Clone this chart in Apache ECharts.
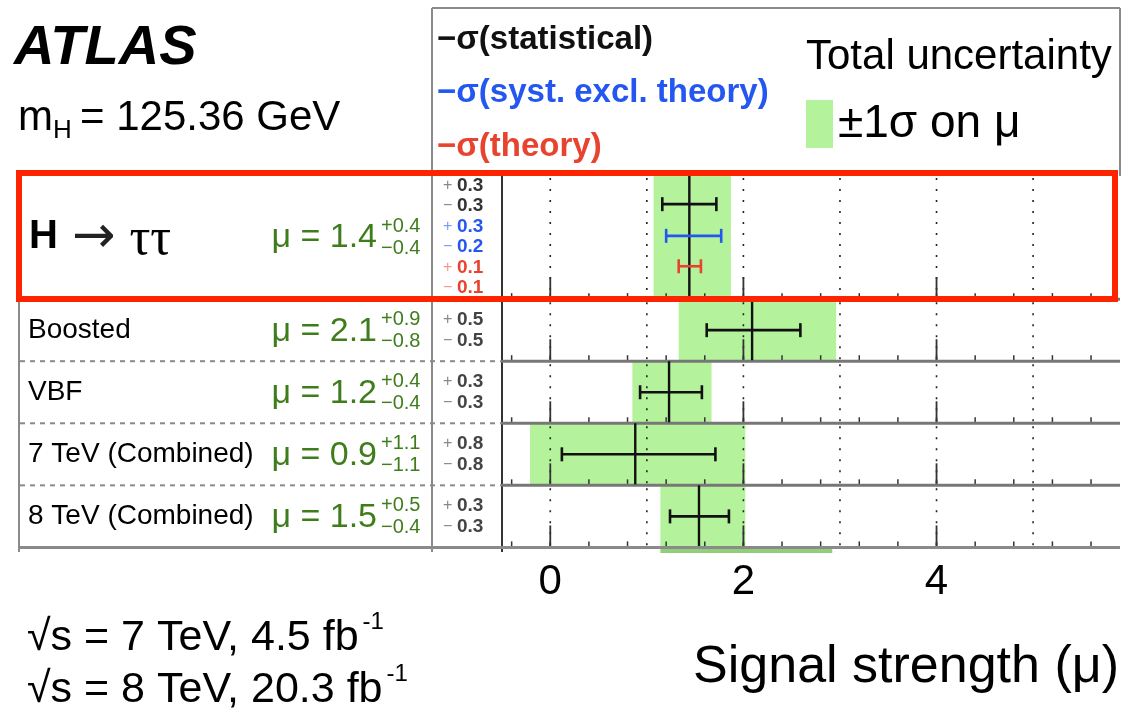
<!DOCTYPE html>
<html>
<head>
<meta charset="utf-8">
<title>ATLAS H → ττ signal strength</title>
<script src="https://cdn.jsdelivr.net/npm/echarts@6/dist/echarts.min.js"></script>
<style>
  html, body { margin: 0; padding: 0; background: #ffffff; }
  #chart { width: 1124px; height: 722px; }
</style>
</head>
<body>
<div id="chart"></div>
<script>
// ---- measured signal strengths ----
const categories = ['H → ττ', 'Boosted', 'VBF', '7 TeV (Combined)', '8 TeV (Combined)'];
const mu      = [1.44, 2.09, 1.23, 0.88, 1.54];
const totalUp = [0.43, 0.87, 0.44, 1.14, 0.48];
const totalDn = [0.37, 0.76, 0.38, 1.09, 0.40];
const statUp  = [0.28, 0.50, 0.34, 0.83, 0.31];
const statDn  = [0.28, 0.47, 0.30, 0.76, 0.30];
// breakdown shown for the combined H → ττ result only
const systUp = 0.33, systDn = 0.24;
const theoUp = 0.12, theoDn = 0.11;
// band of the following panel, cut by the frame
const nextBand = [1.14, 2.92];

// ---- axis ticks ----
const xTickLabels = [0, 2, 4];
const majorTicks  = [0, 2, 4];
const minorTicks  = [-0.4, 0, 0.4, 0.8, 1.2, 1.6, 2.0, 2.4, 2.8, 3.2, 3.6, 4.0, 4.4, 4.8, 5.2, 5.6];
const gridValues  = [0, 1, 2, 3, 4, 5];

// ---- layout ----
const X_MIN = -0.5, X_MAX = 5.9;
const Y_MAX = 6.09;
const rowStart = [0, 2, 3, 4, 5];
const rowEnd   = [2, 3, 4, 5, 6];
const statBarOffset = [0.47, 0.5, 0.5, 0.5, 0.5];
const systBarOffset = 0.98, theoBarOffset = 1.47;

const FONT = '"Liberation Sans", Arial, Helvetica, sans-serif';
const SYMBOL_FONT = '"DejaVu Sans", sans-serif';
const SERIF_FONT = '"Liberation Serif", "DejaVu Serif", serif';
const BAND = '#b4f29c';
const NEXT_BAND = '#93cf78';
const MU_GREEN = '#3f7d1c';
const STAT_C = '#111111', SYST_C = '#2456f0', THEO_C = '#e8432f';
const fmt = v => v.toFixed(1);

const measure = document.createElement('canvas').getContext('2d');
function textWidth(str, size, weight, family) {
  measure.font = (weight || 'normal') + ' ' + size + 'px ' + (family || FONT);
  return measure.measureText(str).width;
}

function txt(text, x, y, size, o) {
  o = o || {};
  return {
    type: 'text', x: x, y: y, z: o.z || 10, silent: true,
    style: {
      text: text, fill: o.color || '#000', fontSize: size, fontFamily: o.family || FONT,
      fontWeight: o.weight || 'normal', fontStyle: o.italic ? 'italic' : 'normal',
      align: o.align || 'left', textAlign: o.align || 'left',
      verticalAlign: 'middle', textVerticalAlign: 'middle'
    }
  };
}
function seg(x1, y1, x2, y2, color, w, dash) {
  return {
    type: 'line', silent: true,
    shape: { x1: x1, y1: y1, x2: x2, y2: y2 },
    style: { stroke: color, lineWidth: w, lineDash: dash || null }
  };
}

// ---- static annotations and frames ----
const graphics = [
  seg(432, 8, 1120, 8, '#8a8a8a', 2),
  seg(1120, 8, 1120, 176, '#8a8a8a', 2),
  seg(432, 8, 432, 552, '#8a8a8a', 2),
  seg(502, 176, 502, 552, '#333333', 2),
  seg(19, 176, 19, 552, '#8a8a8a', 2),

  txt('ATLAS', 14, 49, 56, { weight: 'bold', italic: true }),
  txt('m', 18, 118, 42),
  txt('H', 53, 131, 26),
  txt('= 125.36 GeV', 80, 118, 42),

  txt('−σ(statistical)', 437, 40, 33, { weight: 'bold', color: STAT_C }),
  txt('−σ(syst. excl. theory)', 437, 93, 33, { weight: 'bold', color: SYST_C }),
  txt('−σ(theory)', 437, 147, 33, { weight: 'bold', color: THEO_C }),
  txt('Total uncertainty', 806, 57, 42),
  { type: 'rect', silent: true, shape: { x: 806, y: 100, width: 27, height: 48 }, style: { fill: BAND } },
  txt('±1σ on μ', 838, 124, 46),

  txt('Signal strength (μ)', 1119, 668, 52, { align: 'right' }),

  { type: 'rect', z: 100, silent: true, shape: { x: 19, y: 173, width: 1096, height: 126 },
    style: { fill: 'none', stroke: '#ff2400', lineWidth: 6 } }
];

const energyLines = [
  { main: '√s = 7 TeV, 4.5 fb', y: 638 },
  { main: '√s = 8 TeV, 20.3 fb', y: 690 }
];
energyLines.forEach(function (l) {
  graphics.push(txt(l.main, 27, l.y, 43));
  graphics.push(txt('-1', 27 + textWidth(l.main, 43) + 4, l.y - 16, 24));
});

// ---- series renderers ----
function bandItem(params, api) {
  const p0 = api.coord([api.value(0), api.value(2)]);
  const p1 = api.coord([api.value(1), api.value(3)]);
  return {
    type: 'rect',
    shape: { x: p0[0], y: p0[1], width: p1[0] - p0[0], height: p1[1] - p0[1] },
    style: { fill: api.value(4) === 1 ? NEXT_BAND : BAND }
  };
}

function frameItem(params, api) {
  const y0 = api.value(0), y1 = api.value(1);
  const top = api.coord([X_MIN, y0])[1];
  const bot = api.coord([X_MIN, y1])[1];
  const children = [];
  gridValues.forEach(function (v) {
    const x = api.coord([v, y0])[0];
    children.push(seg(x, top + 3, x, bot, '#222', 1.6, [2, 9]));
  });
  minorTicks.forEach(function (v) {
    const x = api.coord([v, y1])[0];
    children.push(seg(x, bot, x, bot - 6, '#333', 1.5));
  });
  majorTicks.forEach(function (v) {
    const x = api.coord([v, y1])[0];
    children.push(seg(x, bot, x, bot - 22, '#333', 1.8));
  });
  children.push(seg(api.coord([X_MIN, y1])[0], bot, api.coord([X_MAX, y1])[0], bot, '#777', 3));
  return { type: 'group', children: children };
}

function centralItem(params, api) {
  const a = api.coord([api.value(0), api.value(1)]);
  const b = api.coord([api.value(0), api.value(2)]);
  return seg(a[0], a[1], b[0], b[1] - 1, STAT_C, 2.4);
}

function errorBar(color) {
  return function (params, api) {
    const l = api.coord([api.value(0), api.value(2)]);
    const h = api.coord([api.value(1), api.value(2)]);
    const cap = 7;
    return {
      type: 'group',
      children: [
        seg(l[0], l[1], h[0], h[1], color, 2.6),
        seg(l[0], l[1] - cap, l[0], l[1] + cap, color, 2.6),
        seg(h[0], h[1] - cap, h[0], h[1] + cap, color, 2.6)
      ]
    };
  };
}

// the process name: bold "H", a long arrow and serif taus
function processLabel(name, x, y) {
  const parts = name.split(' ');
  const out = [];
  out.push(txt(parts[0], x, y, 40, { weight: 'bold' }));
  let cx = x + textWidth(parts[0], 40, 'bold') + 14;
  out.push(txt(parts[1], cx, y + 1, 52, { family: SYMBOL_FONT, color: '#222' }));
  cx += textWidth(parts[1], 52, 'normal', SYMBOL_FONT) + 14;
  out.push(txt(parts[2], cx, y + 3, 52, { family: SERIF_FONT }));
  return out;
}

function numberLine(sign, value, color, signColor, y) {
  return [
    txt(sign, 443, y, 16, { color: signColor }),
    txt(value, 457, y, 19, { color: color, weight: 'bold' })
  ];
}

function labelItem(params, api) {
  const i = params.dataIndex;
  const y0 = api.value(0), y1 = api.value(1);
  const yOf = function (v) { return api.coord([X_MIN, v])[1]; };
  const yc = yOf((y0 + y1) / 2);
  const yb = yOf(y1);
  const main = i === 0;
  let children = [];

  if (main) {
    children = children.concat(processLabel(categories[i], 29, yc));
  } else {
    children.push(txt(categories[i], 28, yc, 28));
  }
  children.push(txt('μ = ' + fmt(mu[i]), 377, yc + 1, 34, { color: MU_GREEN, align: 'right' }));
  children.push(txt('+' + fmt(totalUp[i]), 381, yc - 11, 20, { color: MU_GREEN }));
  children.push(txt('−' + fmt(totalDn[i]), 381, yc + 11, 20, { color: MU_GREEN }));

  let lines;
  if (main) {
    lines = [
      ['+', fmt(statUp[i]), '#333', '#888', 0.17], ['−', fmt(statDn[i]), '#333', '#888', 0.50],
      ['+', fmt(systUp), SYST_C, '#7f9cf5', 0.83], ['−', fmt(systDn), SYST_C, '#7f9cf5', 1.16],
      ['+', fmt(theoUp), THEO_C, '#f29a8e', 1.49], ['−', fmt(theoDn), THEO_C, '#f29a8e', 1.82]
    ];
  } else {
    lines = [['+', fmt(statUp[i]), '#444', '#888', 0.33], ['−', fmt(statDn[i]), '#444', '#888', 0.67]];
  }
  lines.forEach(function (l) {
    children = children.concat(numberLine(l[0], l[1], l[2], l[3], yOf(y0 + l[4])));
  });

  if (i < categories.length - 1) {
    children.push(seg(20, yb, 502, yb, '#8a8a8a', 2, [5, 5]));
  } else {
    children.push(seg(19, yb, 1120, yb, '#8a8a8a', 3));
  }
  return { type: 'group', children: children };
}

// ---- data for the series ----
const bandData = categories.map(function (c, i) {
  return [mu[i] - totalDn[i], mu[i] + totalUp[i], rowStart[i], rowEnd[i], 0];
});
bandData.push([nextBand[0], nextBand[1], 6, Y_MAX, 1]);
const frameData = categories.map(function (c, i) { return [rowStart[i], rowEnd[i]]; });
const centralData = categories.map(function (c, i) { return [mu[i], rowStart[i], rowEnd[i]]; });
const statData = categories.map(function (c, i) {
  return [mu[i] - statDn[i], mu[i] + statUp[i], rowStart[i] + statBarOffset[i]];
});
const systData = [[mu[0] - systDn, mu[0] + systUp, rowStart[0] + systBarOffset]];
const theoData = [[mu[0] - theoDn, mu[0] + theoUp, rowStart[0] + theoBarOffset]];

const chart = echarts.init(document.getElementById('chart'), null, { renderer: 'canvas' });
chart.setOption({
  animation: false,
  backgroundColor: '#ffffff',
  grid: { left: 502, right: 4, top: 175, height: 378, containLabel: false },
  xAxis: {
    type: 'value', min: X_MIN, max: X_MAX,
    axisLine: { show: false }, axisTick: { show: false }, splitLine: { show: false },
    axisLabel: {
      customValues: xTickLabels, margin: 8, color: '#000',
      fontSize: 42, fontFamily: FONT
    }
  },
  yAxis: { type: 'value', min: 0, max: Y_MAX, inverse: true, show: false },
  graphic: { elements: graphics },
  series: [
    { type: 'custom', name: 'Total uncertainty', renderItem: bandItem, data: bandData, z: 1, silent: true, clip: true },
    { type: 'custom', name: 'axes', renderItem: frameItem, data: frameData, z: 2, silent: true },
    { type: 'custom', name: 'central value', renderItem: centralItem, data: centralData, z: 3, silent: true },
    { type: 'custom', name: 'σ(statistical)', renderItem: errorBar(STAT_C), data: statData, z: 4, silent: true },
    { type: 'custom', name: 'σ(syst. excl. theory)', renderItem: errorBar(SYST_C), data: systData, z: 4, silent: true },
    { type: 'custom', name: 'σ(theory)', renderItem: errorBar(THEO_C), data: theoData, z: 4, silent: true },
    { type: 'custom', name: 'labels', renderItem: labelItem, data: frameData, z: 5, silent: true, clip: false }
  ]
});
</script>
</body>
</html>
